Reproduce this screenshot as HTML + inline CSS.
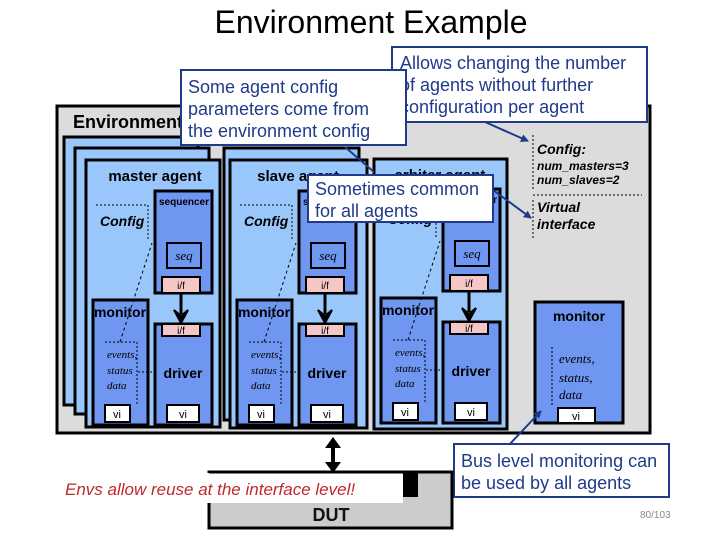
<!DOCTYPE html>
<html><head><meta charset="utf-8"><style>
html,body{margin:0;padding:0;background:#fff;width:720px;height:540px;overflow:hidden}
svg{display:block}
text{font-family:"Liberation Sans",sans-serif}
.b{font-weight:bold}
.ser{font-family:"Liberation Serif",serif;font-style:italic}
.call{fill:#1f3a8a;font-size:18px}
</style></head><body>
<svg width="720" height="540" viewBox="0 0 720 540" xmlns="http://www.w3.org/2000/svg">
<defs>
<marker id="ah" markerWidth="8" markerHeight="8" refX="7" refY="4" orient="auto" markerUnits="userSpaceOnUse"><path d="M0,0 L8,4 L0,8 z" fill="#1f3a8a"/></marker>
<g id="agent">
  <rect x="155" y="191" width="57" height="102" fill="#6f96f0" stroke="#000" stroke-width="3"/>
  <text x="184" y="205" font-size="10" class="b" text-anchor="middle">sequencer</text>
  <rect x="167" y="243" width="34" height="25" fill="#6f96f0" stroke="#000" stroke-width="2"/>
  <text x="184" y="260" font-size="13" class="ser" text-anchor="middle">seq</text>
  <rect x="162" y="277" width="38" height="16" fill="#f4c6c6" stroke="#000" stroke-width="2"/>
  <text x="181" y="289" font-size="10" text-anchor="middle">i/f</text>
  <line x1="181" y1="293" x2="181" y2="314" stroke="#000" stroke-width="3"/>
  <path d="M174,310 L181,323 L188,310 L181,316 z" fill="#000" stroke="#000" stroke-width="2"/>
  <rect x="155" y="324" width="57" height="101" fill="#6f96f0" stroke="#000" stroke-width="3"/>
  <rect x="162" y="324" width="38" height="12" fill="#f4c6c6" stroke="#000" stroke-width="2"/>
  <text x="181" y="334" font-size="10" text-anchor="middle">i/f</text>
  <text x="183" y="378" font-size="14" class="b" text-anchor="middle">driver</text>
  <rect x="167" y="405" width="32" height="17" fill="#fff" stroke="#000" stroke-width="2"/>
  <text x="183" y="418" font-size="11" text-anchor="middle">vi</text>
  <rect x="93" y="300" width="55" height="125" fill="#6f96f0" stroke="#000" stroke-width="3"/>
  <text x="120" y="317" font-size="14" class="b" text-anchor="middle">monitor</text>
  <rect x="105" y="405" width="25" height="17" fill="#fff" stroke="#000" stroke-width="2"/>
  <text x="117" y="418" font-size="11" text-anchor="middle">vi</text>
  <text x="107" y="358" font-size="11" class="ser">events,</text>
  <text x="107" y="374" font-size="11" class="ser">status</text>
  <text x="107" y="389" font-size="11" class="ser">data</text>
  <path d="M105,342 H137 V405 M138,372 H152" fill="none" stroke="#000" stroke-width="1" stroke-dasharray="2,2"/>
  <path d="M96,205 H148 V240" fill="none" stroke="#000" stroke-width="1" stroke-dasharray="2,2"/>
  <text x="100" y="226" font-size="14" class="b" font-style="italic">Config</text>
  <path d="M120,342 L152,243" fill="none" stroke="#000" stroke-width="1" stroke-dasharray="3,3"/>
</g>
</defs>
<text x="371" y="33" font-size="32" text-anchor="middle">Environment Example</text>
<rect x="57" y="106" width="593" height="327" fill="#dcdcdc" stroke="#000" stroke-width="3"/>
<text x="73" y="128" font-size="18" class="b">Environment</text>
<rect x="64" y="137" width="134" height="268" fill="#99c7fb" stroke="#000" stroke-width="3"/>
<rect x="75" y="148" width="134" height="266" fill="#99c7fb" stroke="#000" stroke-width="3"/>
<rect x="86" y="160" width="134" height="267" fill="#99c7fb" stroke="#000" stroke-width="3"/>
<text x="155" y="181" font-size="15" class="b" text-anchor="middle">master agent</text>
<use href="#agent"/>
<rect x="224" y="148" width="135" height="272" fill="#99c7fb" stroke="#000" stroke-width="3"/>
<rect x="230" y="160" width="137" height="268" fill="#99c7fb" stroke="#000" stroke-width="3"/>
<text x="298" y="181" font-size="15" class="b" text-anchor="middle">slave agent</text>
<use href="#agent" transform="translate(144,0)"/>
<rect x="374" y="159" width="133" height="270" fill="#99c7fb" stroke="#000" stroke-width="3"/>
<text x="440" y="180" font-size="15" class="b" text-anchor="middle">arbiter agent</text>
<use href="#agent" transform="translate(288,-2)"/>
<rect x="535" y="302" width="88" height="121" fill="#6f96f0" stroke="#000" stroke-width="3"/>
<text x="579" y="321" font-size="14" class="b" text-anchor="middle">monitor</text>
<path d="M552,347 V405" stroke="#000" stroke-dasharray="2,2"/>
<text x="559" y="363" font-size="13" class="ser">events,</text>
<text x="559" y="382" font-size="13" class="ser">status,</text>
<text x="559" y="399" font-size="13" class="ser">data</text>
<rect x="558" y="408" width="37" height="15" fill="#fff" stroke="#000" stroke-width="2"/>
<text x="576" y="420" font-size="11" text-anchor="middle">vi</text>
<path d="M533,135 V190 M533,195 H642 M533,200 V240" stroke="#000" stroke-dasharray="2,2"/>
<text x="537" y="154" font-size="14" class="b" font-style="italic">Config:</text>
<text x="537" y="170" font-size="12" class="b" font-style="italic">num_masters=3</text>
<text x="537" y="184" font-size="12" class="b" font-style="italic">num_slaves=2</text>
<text x="537" y="212" font-size="14" class="b" font-style="italic">Virtual</text>
<text x="537" y="229" font-size="14" class="b" font-style="italic">interface</text>
<rect x="392" y="47" width="255" height="75" fill="#fff" stroke="#1f3a8a" stroke-width="2"/>
<text x="400" y="69" class="call">Allows changing the number</text>
<text x="400" y="91" class="call">of agents without further</text>
<text x="400" y="113" class="call">configuration per agent</text>
<rect x="181" y="70" width="225" height="75" fill="#fff" stroke="#1f3a8a" stroke-width="2"/>
<text x="188" y="93" class="call">Some agent config</text>
<text x="188" y="115" class="call">parameters come from</text>
<text x="188" y="137" class="call">the environment config</text>
<line x1="345" y1="147" x2="374" y2="172" stroke="#1f3a8a" stroke-width="2"/>
<rect x="308" y="175" width="185" height="47" fill="#fff" stroke="#1f3a8a" stroke-width="2"/>
<text x="315" y="195" class="call">Sometimes common</text>
<text x="315" y="217" class="call">for all agents</text>
<line x1="485" y1="122" x2="528" y2="141" stroke="#1f3a8a" stroke-width="2" marker-end="url(#ah)"/>
<line x1="493" y1="190" x2="531" y2="218" stroke="#1f3a8a" stroke-width="2" marker-end="url(#ah)"/>
<line x1="508" y1="446" x2="541" y2="411" stroke="#1f3a8a" stroke-width="2" marker-end="url(#ah)"/>
<rect x="454" y="444" width="215" height="53" fill="#fff" stroke="#1f3a8a" stroke-width="2"/>
<text x="461" y="467" class="call">Bus level monitoring can</text>
<text x="461" y="489" class="call">be used by all agents</text>
<rect x="209" y="472" width="243" height="56" fill="#cccccc" stroke="#000" stroke-width="3"/>
<rect x="403" y="472" width="15" height="25" fill="#000"/>
<rect x="62" y="473" width="341" height="30" fill="#fff"/>
<line x1="209" y1="472" x2="403" y2="472" stroke="#000" stroke-width="3"/>
<text x="65" y="495" font-size="17" font-style="italic" fill="#c0282d">Envs allow reuse at the interface level!</text>
<text x="331" y="521" font-size="18" class="b" text-anchor="middle" fill="#111">DUT</text>
<line x1="333" y1="445" x2="333" y2="465" stroke="#000" stroke-width="4"/>
<path d="M325,448 L333,437 L341,448 z M325,462 L333,473 L341,462 z" fill="#000"/>
<text x="640" y="518" font-size="10" fill="#888">80/103</text>
</svg>
</body></html>
